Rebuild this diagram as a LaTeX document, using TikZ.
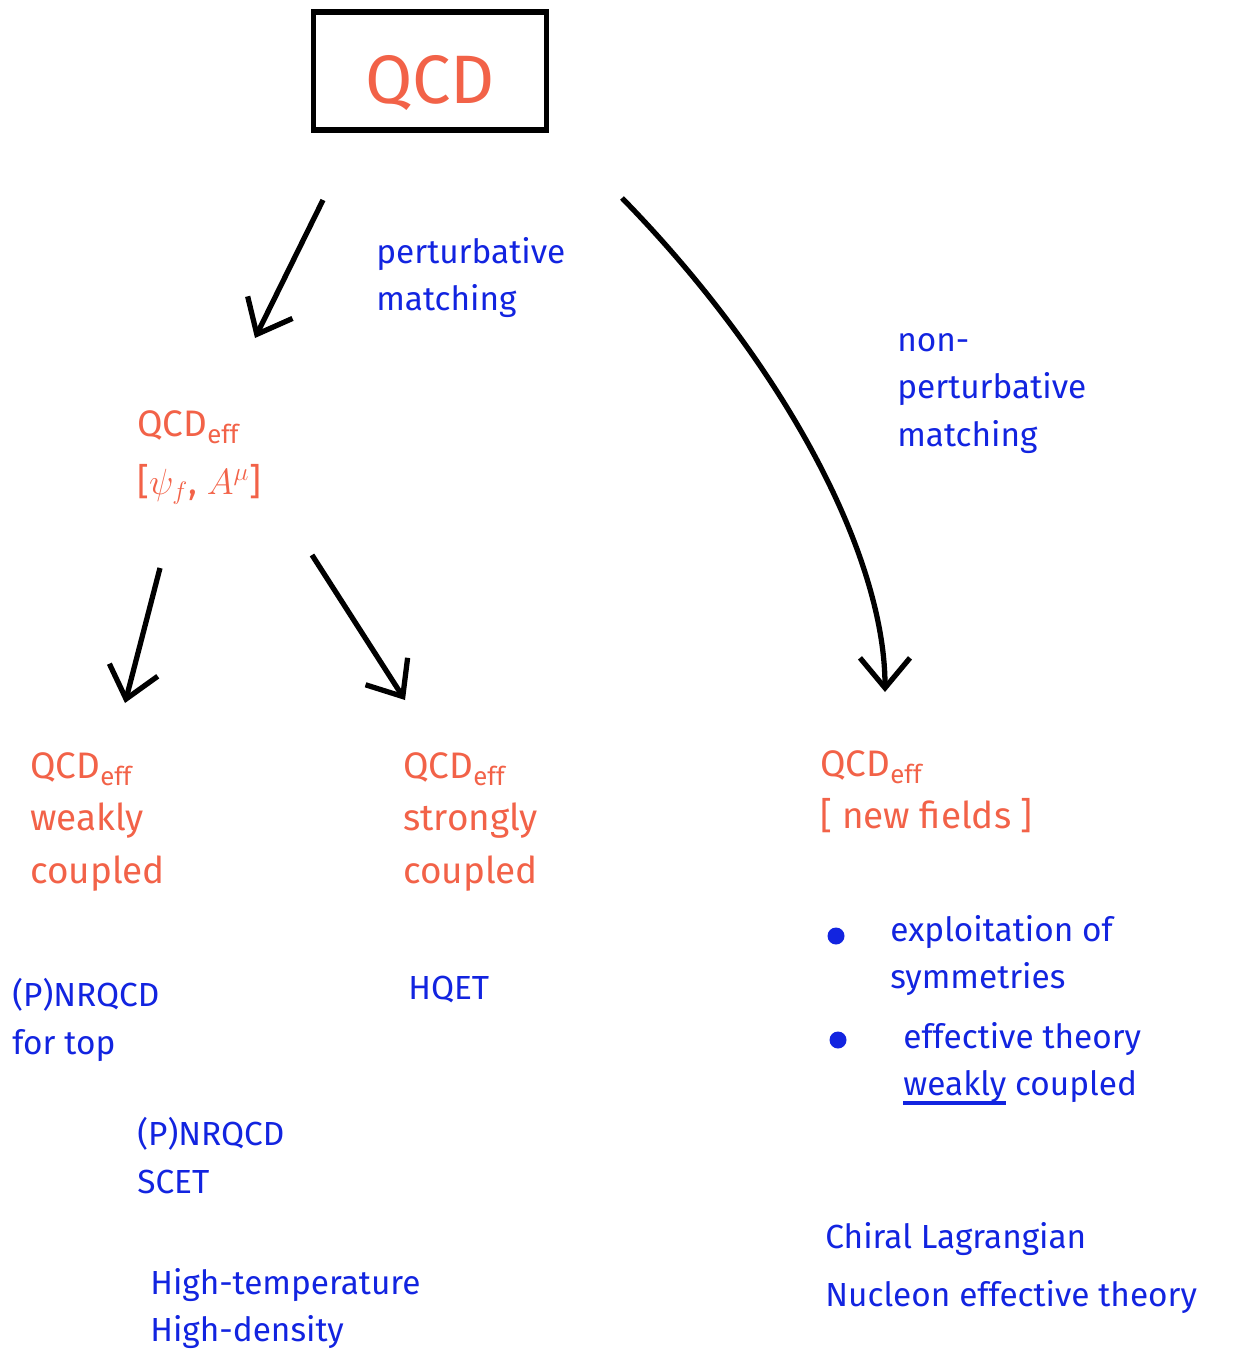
\documentclass[tikz,border=0pt]{standalone}
\usepackage{fontspec}
\setmainfont{Fira Sans}
\usetikzlibrary{arrows.meta}
\definecolor{qcdred}{RGB}{242,98,72}
\definecolor{ink}{RGB}{18,36,224}
\newcommand\thickul[1]{\setbox0\hbox{#1}\rlap{\rule[-5pt]{\wd0}{1.8pt}}\box0\relax}
\tikzstyle{eft} = [text=qcdred,align=left,anchor=north west,inner sep=0pt,font=\fontsize{21}{30}\selectfont]
\tikzstyle{note} = [text=ink,align=left,anchor=north west,inner sep=0pt,font=\fontsize{19}{27}\selectfont]
\tikzstyle{flow} = [-{Straight Barb[length=6mm,width=10mm]},line width=3pt]

\begin{document}
\begin{tikzpicture}[x=0.02cm,y=-0.02cm]
	\useasboundingbox (0,0) rectangle (1254,1366);

	\node[draw,line width=3pt,minimum width=4.66cm,minimum height=2.36cm,text=qcdred,text height=1.3cm,text depth=0cm,font=\fontsize{39}{39}\selectfont](qcd) at (430,71) {QCD};

	\node[note](pmatch) at (376,237) {perturbative\\matching};
	\node[note](npmatch) at (897,333) {non-\\perturbative\\matching};

	\node[eft](eff) at (137,410) {QCD\textsubscript{eff}\\[3pt]{}[$\psi_f$, $A^\mu$]};
	\node[eft](weak) at (30,752) {QCD\textsubscript{eff}\\weakly\\coupled};
	\node[eft](strong) at (403,752) {QCD\textsubscript{eff}\\strongly\\coupled};
	\node[eft](fields) at (820,750) {QCD\textsubscript{eff}\\{}[ new fields ]};

	% what each branch is used for
	\node[note](nrtop) at (12,978) {(P)NRQCD\\for top};
	\node[note](hqet) at (408,976) {HQET};
	\node[note](scet) at (137,1117) {(P)NRQCD\\SCET};
	\node[note](hight) at (150,1268) {High-temperature\\High-density};
	\node[note](sym) at (890,915) {exploitation of\\symmetries};
	\node[note](wcoup) at (903,1022) {effective theory\\\thickul{weakly} coupled};
	\node[note](chiral) at (825,1222) {Chiral Lagrangian\\[6pt]Nucleon effective theory};
	\fill[ink] (836,936) circle[radius=0.17cm];
	\fill[ink] (838,1040) circle[radius=0.17cm];

	\coordinate (l0) at (323,200);
	\coordinate (l1) at (255,338);
	\coordinate (r0) at (622,198);
	\coordinate (r1) at (885,692);
	\coordinate (a0) at (160,568);
	\coordinate (a1) at (125,703);
	\coordinate (b0) at (312,555);
	\coordinate (b1) at (405,700);

	\draw[flow] (l0) -- (l1);
	\draw[flow] (r0) .. controls (790,370) and (885,560) .. (r1);
	\draw[flow] (a0) -- (a1);
	\draw[flow] (b0) -- (b1);

\end{tikzpicture}
\end{document}
